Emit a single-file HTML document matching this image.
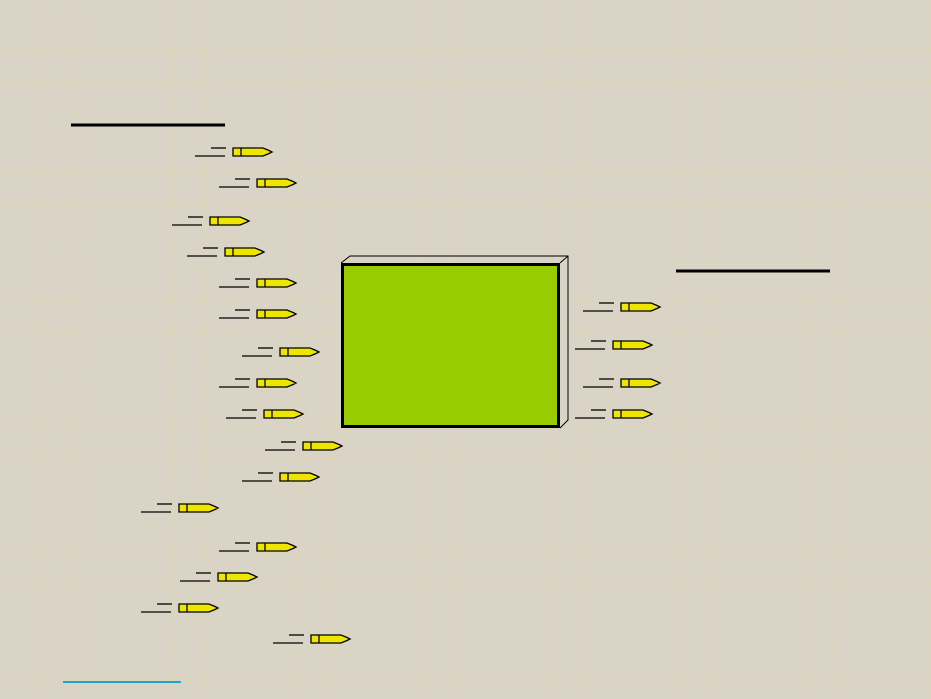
<!DOCTYPE html>
<html><head><meta charset="utf-8"><style>
html,body{margin:0;padding:0;}
body{width:931px;height:699px;overflow:hidden;background:#d9d4c5;}
</style></head><body>
<svg width="931" height="699" xmlns="http://www.w3.org/2000/svg" style="display:block">
<defs>
<pattern id="grid" width="31.5" height="31.5" patternUnits="userSpaceOnUse" x="15" y="17">
<path d="M0,0 H31.5 M0,0 V31.5" stroke="#e3d9a8" stroke-width="1" fill="none" stroke-dasharray="3,2"/>
</pattern>
<g id="b">
<line x1="-38" y1="8" x2="-8" y2="8" stroke="#000" stroke-width="1.3"/>
<line x1="-22" y1="0" x2="-7" y2="0" stroke="#000" stroke-width="1.3"/>
<path d="M0,0 H30 L36,2.5 L39,4 L36,5.5 L30,8 H0 Z" fill="#eee600" stroke="#000" stroke-width="1.3"/>
<line x1="8" y1="0" x2="8" y2="8" stroke="#000" stroke-width="1.3"/>
</g>
</defs>
<rect width="931" height="699" fill="#d9d4c5"/>
<rect width="931" height="699" fill="url(#grid)"/>
<line x1="71" y1="125" x2="225" y2="125" stroke="#000" stroke-width="3"/>
<line x1="676" y1="271" x2="830" y2="271" stroke="#000" stroke-width="3"/>
<line x1="63" y1="682" x2="181" y2="682" stroke="#1aa7c8" stroke-width="2"/>
<path d="M341,263 L350,256 H568 V420 L560,428 M560,263 L568,256" fill="none" stroke="#000" stroke-width="1"/>
<rect x="342.5" y="264.5" width="216" height="162" fill="#99cc00" stroke="#000" stroke-width="3"/>
<use href="#b" x="233" y="148"/>
<use href="#b" x="257" y="179"/>
<use href="#b" x="210" y="217"/>
<use href="#b" x="225" y="248"/>
<use href="#b" x="257" y="279"/>
<use href="#b" x="257" y="310"/>
<use href="#b" x="280" y="348"/>
<use href="#b" x="257" y="379"/>
<use href="#b" x="264" y="410"/>
<use href="#b" x="303" y="442"/>
<use href="#b" x="280" y="473"/>
<use href="#b" x="179" y="504"/>
<use href="#b" x="257" y="543"/>
<use href="#b" x="218" y="573"/>
<use href="#b" x="179" y="604"/>
<use href="#b" x="311" y="635"/>
<use href="#b" x="621" y="303"/>
<use href="#b" x="613" y="341"/>
<use href="#b" x="621" y="379"/>
<use href="#b" x="613" y="410"/>
</svg>
</body></html>
